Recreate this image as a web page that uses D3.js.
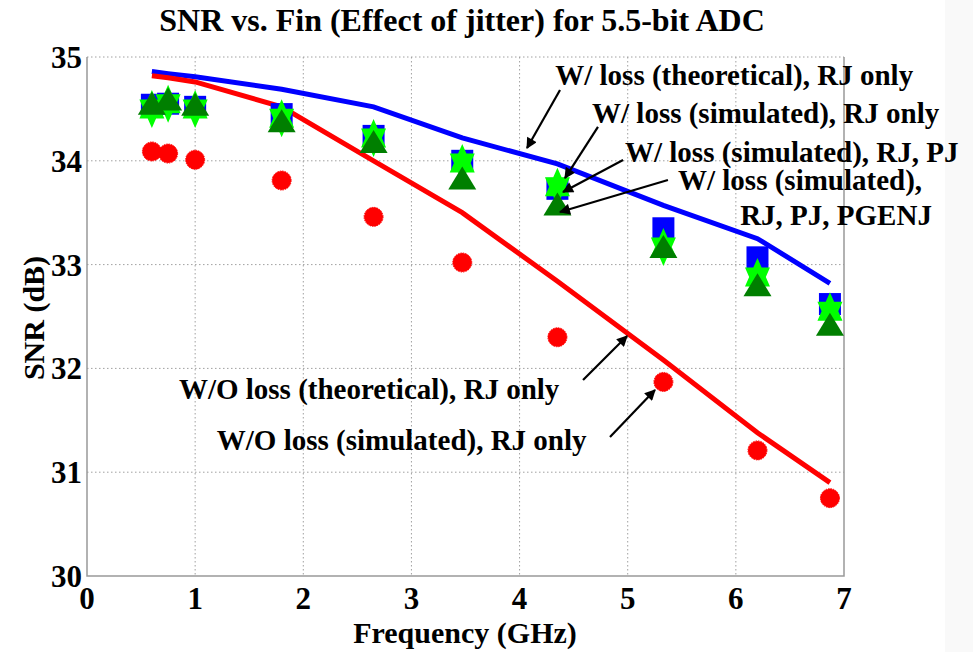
<!DOCTYPE html>
<html>
<head>
<meta charset="utf-8">
<script src="https://d3js.org/d3.v7.min.js"></script>
<style>
  body { margin: 0; background: #fff; }
  svg text { font-family: "Liberation Serif", "Times New Roman", serif; font-weight: bold; fill: #000; }
</style>
</head>
<body>
<svg id="chart" width="973" height="652"></svg>
<script>
// input frequencies (GHz)
const freq = [0.6, 0.75, 1.0, 1.8, 2.65, 3.47, 4.35, 5.33, 6.2, 6.87];

// SNR (dB) series
const woLossTheory = [34.82, 34.80, 34.76, 34.52, 34.00, 33.50, 32.84, 32.08, 31.38, 30.90];
const woLossSim    = [34.09, 34.07, 34.01, 33.81, 33.46, 33.02, 32.30, 31.87, 31.21, 30.75];
const wLossTheory  = [34.86, 34.84, 34.81, 34.69, 34.52, 34.22, 33.97, 33.57, 33.25, 32.82];
const wLossSimRJ   = [34.54, 34.55, 34.52, 34.45, 34.24, 34.00, 33.73, 33.35, 33.07, 32.62];
const wLossSimPJ   = [34.50, 34.55, 34.50, 34.41, 34.22, 33.98, 33.75, 33.17, 32.88, 32.55];
const wLossSimPGEN = [34.55, 34.59, 34.54, 34.38, 34.18, 33.83, 33.58, 33.17, 32.80, 32.42];

const xTicks = [0, 1, 2, 3, 4, 5, 6, 7];
const yTicks = [30, 31, 32, 33, 34, 35];

const title = "SNR vs. Fin (Effect of jitter) for 5.5-bit ADC";
const xLabel = "Frequency (GHz)";
const yLabel = "SNR (dB)";

// annotation text: [label, x, y] in data units
const notes = [
  ["W/ loss (theoretical), RJ only", 4.33, 34.73],
  ["W/ loss (simulated), RJ only", 4.67, 34.365],
  ["W/ loss (simulated), RJ, PJ", 4.975, 33.99],
  ["W/ loss (simulated),", 5.465, 33.72],
  ["RJ, PJ, PGENJ", 6.04, 33.385],
  ["W/O loss (theoretical), RJ only", 0.85, 31.705],
  ["W/O loss (simulated), RJ only", 1.2, 31.215]
];
// arrows: [x1, y1, x2, y2] tail -> head, data units
const arrows = [
  [4.374, 34.682, 4.069, 34.123],
  [4.725, 34.326, 4.420, 33.834],
  [4.957, 34.008, 4.402, 33.699],
  [5.372, 33.815, 4.374, 33.507],
  [4.587, 31.888, 4.994, 32.312],
  [4.836, 31.339, 5.252, 31.792]
];

const svg = d3.select("#chart");
const pLeft = 87, pRight = 844, pTop = 57, pBottom = 576;

const x = d3.scaleLinear().domain([0, 7]).range([pLeft, pRight]);
const y = d3.scaleLinear().domain([30, 35]).range([pBottom, pTop]);

// light strip on the right edge of the screenshot
svg.append("rect").attr("x", 945).attr("y", 0).attr("width", 28).attr("height", 652).attr("fill", "#f9f9f9");

// grid
const grid = svg.append("g");
grid.selectAll(".gx").data(xTicks.slice(1, -1)).join("line")
  .attr("x1", d => x(d)).attr("x2", d => x(d))
  .attr("y1", pTop).attr("y2", pBottom)
  .attr("stroke", "#a0a0a0").attr("stroke-width", 1).attr("stroke-dasharray", "1.5,2.5");
grid.selectAll(".gy").data(yTicks.slice(1)).join("line")
  .attr("x1", pLeft).attr("x2", pRight)
  .attr("y1", d => y(d)).attr("y2", d => y(d))
  .attr("stroke", "#a0a0a0").attr("stroke-width", 1).attr("stroke-dasharray", "1.5,2.5");

// axes box (left, bottom, right solid)
svg.append("path")
  .attr("d", `M${pLeft},${pTop}V${pBottom}H${pRight}V${pTop}`)
  .attr("fill", "none").attr("stroke", "#999").attr("stroke-width", 1.5);

// tick labels
svg.append("g").selectAll("text").data(xTicks).join("text")
  .attr("x", d => x(d)).attr("y", 609)
  .attr("text-anchor", "middle").attr("font-size", 31)
  .text(d => d);
svg.append("g").selectAll("text").data(yTicks).join("text")
  .attr("x", 82).attr("y", d => y(d) + 11)
  .attr("text-anchor", "end").attr("font-size", 31)
  .text(d => d);

// titles
svg.append("text").attr("x", 462).attr("y", 31).attr("text-anchor", "middle")
  .attr("font-size", 32).text(title);
svg.append("text").attr("x", 465).attr("y", 643).attr("text-anchor", "middle")
  .attr("font-size", 30).text(xLabel);
svg.append("text").attr("transform", "translate(44,318) rotate(-90)")
  .attr("text-anchor", "middle").attr("font-size", 30).text(yLabel);

// theoretical curves
const line = d3.line().x((d, i) => x(freq[i])).y(d => y(d));
svg.append("path").datum(wLossTheory).attr("d", line)
  .attr("fill", "none").attr("stroke", "#0000ff").attr("stroke-width", 5);
svg.append("path").datum(woLossTheory).attr("d", line)
  .attr("fill", "none").attr("stroke", "#ff0000").attr("stroke-width", 5);

// custom marker shapes
const squareType = { draw(ctx, s) { const h = 11; ctx.rect(-h, -h, 2 * h, 2 * h); } };
const triType = { draw(ctx, s) { ctx.moveTo(0, -12); ctx.lineTo(14, 11); ctx.lineTo(-14, 11); ctx.closePath(); } };
const hexType = {
  draw(ctx, s) {
    const R = 19, r = R / Math.sqrt(3), sx = 0.76;
    for (let k = 0; k < 12; k++) {
      const a = -Math.PI / 2 + k * Math.PI / 6;
      const rr = k % 2 === 0 ? R : r;
      const px = Math.cos(a) * rr * sx, py = Math.sin(a) * rr;
      if (k === 0) ctx.moveTo(px, py); else ctx.lineTo(px, py);
    }
    ctx.closePath();
  }
};

function drawMarkers(vals, type, color) {
  svg.append("g").selectAll("path").data(vals).join("path")
    .attr("transform", (d, i) => `translate(${x(freq[i])},${y(d)})`)
    .attr("d", d3.symbol().type(type)())
    .attr("fill", color);
}
drawMarkers(wLossSimRJ, squareType, "#0000ff");
drawMarkers(wLossSimPJ, hexType, "#00ff00");
drawMarkers(wLossSimPGEN, triType, "#007f00");

// red simulated dots
svg.append("g").selectAll("circle").data(woLossSim).join("circle")
  .attr("cx", (d, i) => x(freq[i])).attr("cy", d => y(d)).attr("r", 9.5)
  .attr("fill", "#ff0000").attr("stroke", "#ff0000").attr("stroke-width", 1).attr("stroke-dasharray", "1.5,1");

// annotations
svg.append("defs").append("marker")
  .attr("id", "head").attr("viewBox", "0 0 10 10").attr("refX", 9).attr("refY", 5)
  .attr("markerWidth", 5.5).attr("markerHeight", 5).attr("markerUnits", "strokeWidth")
  .attr("orient", "auto")
  .append("path").attr("d", "M0,0L10,5L0,10Z").attr("fill", "#000");

svg.append("g").selectAll("line").data(arrows).join("line")
  .attr("x1", d => x(d[0])).attr("y1", d => y(d[1]))
  .attr("x2", d => x(d[2])).attr("y2", d => y(d[3]))
  .attr("stroke", "#000").attr("stroke-width", 2.2)
  .attr("marker-end", "url(#head)");

svg.append("g").selectAll("text").data(notes).join("text")
  .attr("x", d => x(d[1])).attr("y", d => y(d[2]))
  .attr("font-size", 29)
  .text(d => d[0]);
</script>
</body>
</html>
